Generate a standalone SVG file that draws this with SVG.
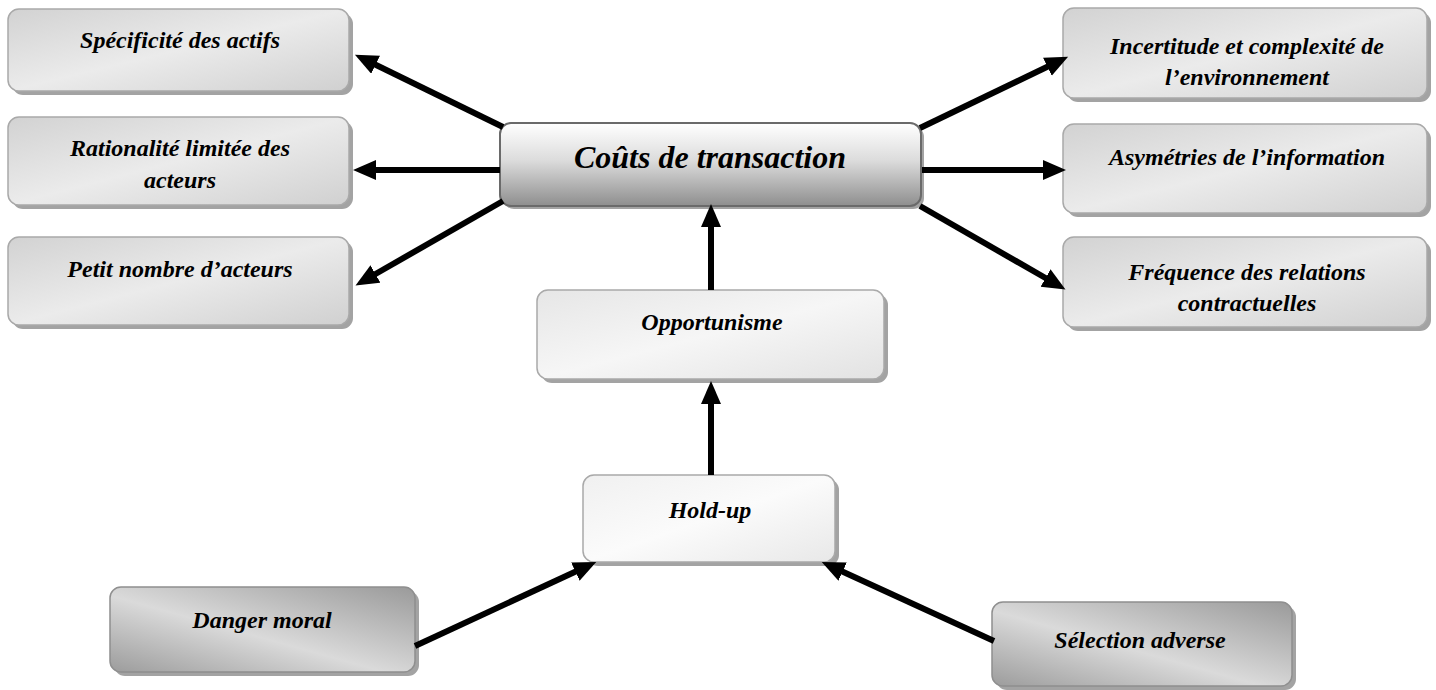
<svg xmlns="http://www.w3.org/2000/svg" width="1436" height="690" viewBox="0 0 1436 690">
<defs>
<linearGradient id="gSide" x1="0" y1="0" x2="1" y2="1">
<stop offset="0" stop-color="#d2d2d2"/><stop offset="0.5" stop-color="#ebebeb"/><stop offset="1" stop-color="#d0d0d0"/>
</linearGradient>
<linearGradient id="gCenter" x1="0" y1="0" x2="0" y2="1">
<stop offset="0" stop-color="#ffffff"/><stop offset="0.45" stop-color="#dcdcdc"/><stop offset="1" stop-color="#8e8e8e"/>
</linearGradient>
<linearGradient id="gOpp" x1="0" y1="0" x2="1" y2="1">
<stop offset="0" stop-color="#e6e6e6"/><stop offset="0.5" stop-color="#f6f6f6"/><stop offset="1" stop-color="#e2e2e2"/>
</linearGradient>
<linearGradient id="gHold" x1="0" y1="0" x2="1" y2="1">
<stop offset="0" stop-color="#f0f0f0"/><stop offset="0.5" stop-color="#fbfbfb"/><stop offset="1" stop-color="#e8e8e8"/>
</linearGradient>
<linearGradient id="gDark" x1="0" y1="1" x2="1" y2="0">
<stop offset="0" stop-color="#9c9c9c"/><stop offset="0.45" stop-color="#dadada"/><stop offset="1" stop-color="#9a9a9a"/>
</linearGradient>
<marker id="ah" markerUnits="userSpaceOnUse" markerWidth="26" markerHeight="22" refX="4" refY="10" orient="auto">
<path d="M0,0 L23,10 L0,20 z" fill="#000"/>
</marker>
<style>
.shadow{fill:#a3a3a3}
.box{stroke:#a9a9a9;stroke-width:1.5}
.side{fill:url(#gSide)}
.center{fill:url(#gCenter);stroke:#6a6a6a;stroke-width:2}
.opp{fill:url(#gOpp)}
.hold{fill:url(#gHold)}
.dark{fill:url(#gDark);stroke:#8f8f8f}
text{font-family:"Liberation Serif","Times New Roman",serif;font-weight:bold;font-style:italic;font-size:24px;fill:#000;text-anchor:middle}
.big{font-size:32px}
.conn line{stroke:#000;stroke-width:6;marker-end:url(#ah)}
</style>
</defs>
<rect width="1436" height="690" fill="#fff"/>

<g id="n-specificite">
<rect class="shadow" x="12" y="13" width="341" height="82" rx="11"/>
<rect class="box side" x="8" y="9" width="341" height="82" rx="11"/>
<text x="180" y="48">Spécificité des actifs</text>
</g>
<g id="n-rationalite">
<rect class="shadow" x="12" y="121" width="341" height="88" rx="11"/>
<rect class="box side" x="8" y="117" width="341" height="88" rx="11"/>
<text x="180" y="156">Rationalité limitée des</text>
<text x="180" y="188">acteurs</text>
</g>
<g id="n-petit">
<rect class="shadow" x="12" y="241" width="341" height="88" rx="11"/>
<rect class="box side" x="8" y="237" width="341" height="88" rx="11"/>
<text x="180" y="277">Petit nombre d’acteurs</text>
</g>
<g id="n-couts">
<rect class="shadow" x="503" y="126" width="421" height="83" rx="11"/>
<rect class="center" x="500" y="123" width="421" height="83" rx="11"/>
<text class="big" x="710" y="168">Coûts de transaction</text>
</g>
<g id="n-incertitude">
<rect class="shadow" x="1067" y="12" width="364" height="90" rx="11"/>
<rect class="box side" x="1063" y="8" width="364" height="90" rx="11"/>
<text x="1247" y="54">Incertitude et complexité de</text>
<text x="1247" y="85">l’environnement</text>
</g>
<g id="n-asymetries">
<rect class="shadow" x="1067" y="128" width="364" height="89" rx="11"/>
<rect class="box side" x="1063" y="124" width="364" height="89" rx="11"/>
<text x="1247" y="165">Asymétries de l’information</text>
</g>
<g id="n-frequence">
<rect class="shadow" x="1067" y="241" width="364" height="90" rx="11"/>
<rect class="box side" x="1063" y="237" width="364" height="90" rx="11"/>
<text x="1247" y="280">Fréquence des relations</text>
<text x="1247" y="311">contractuelles</text>
</g>
<g id="n-opportunisme">
<rect class="shadow" x="541" y="294" width="347" height="89" rx="11"/>
<rect class="box opp" x="537" y="290" width="347" height="89" rx="11"/>
<text x="712" y="330">Opportunisme</text>
</g>
<g id="n-holdup">
<rect class="shadow" x="587" y="479" width="252" height="87" rx="11"/>
<rect class="box hold" x="583" y="475" width="252" height="87" rx="11"/>
<text x="710" y="518">Hold-up</text>
</g>
<g id="n-danger">
<rect class="shadow" x="114" y="591" width="305" height="85" rx="11"/>
<rect class="box dark" x="110" y="587" width="305" height="85" rx="11"/>
<text x="262" y="628">Danger moral</text>
</g>
<g id="n-selection">
<rect class="shadow" x="996" y="606" width="300" height="84" rx="11"/>
<rect class="box dark" x="992" y="602" width="300" height="84" rx="11"/>
<text x="1140" y="648">Sélection adverse</text>
</g>

<g id="connectors" class="conn">
<line x1="503" y1="127" x2="372" y2="63"/>
<line x1="500" y1="170" x2="372" y2="170"/>
<line x1="503" y1="201" x2="372" y2="276"/>
<line x1="920" y1="128" x2="1051" y2="65"/>
<line x1="922" y1="170" x2="1047" y2="170"/>
<line x1="920" y1="206" x2="1049" y2="280"/>
<line x1="711" y1="290" x2="711" y2="223"/>
<line x1="711" y1="475" x2="711" y2="400"/>
<line x1="415" y1="646" x2="579" y2="570"/>
<line x1="994" y1="641" x2="839" y2="570"/>
</g>
</svg>
